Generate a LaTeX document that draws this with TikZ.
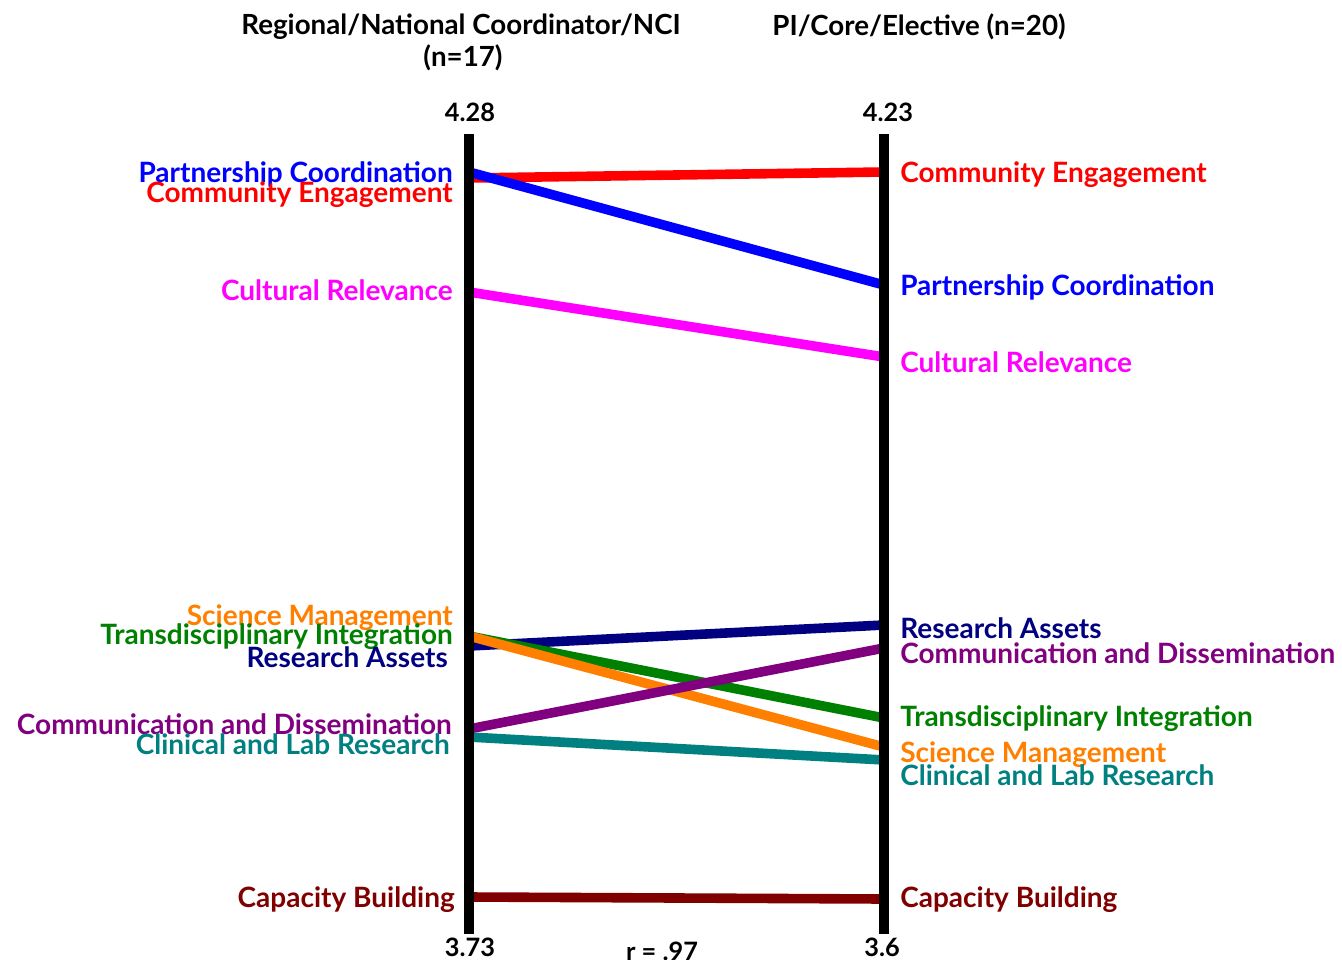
\documentclass[tikz,border=0pt]{standalone}
\usepackage{fontspec}
\setmainfont{Lato}[UprightFont=* Bold]
\definecolor{cRed}{RGB}{255,0,0}
\definecolor{cBlue}{RGB}{0,0,255}
\definecolor{cMag}{RGB}{255,0,255}
\definecolor{cNavy}{RGB}{0,0,128}
\definecolor{cOrange}{RGB}{255,128,0}
\definecolor{cGreen}{RGB}{0,128,0}
\definecolor{cPurple}{RGB}{128,0,128}
\definecolor{cTeal}{RGB}{0,128,128}
\definecolor{cDark}{RGB}{128,0,0}
\begin{document}
\begin{tikzpicture}[x=0.75pt,y=-0.75pt,
  lbl/.style={inner sep=0pt,yshift=-2pt,font=\fontsize{21}{23}\selectfont},
  llbl/.style={lbl,anchor=east},
  rlbl/.style={lbl,anchor=west},
  hdr/.style={inner sep=0pt,font=\fontsize{20.8}{23}\selectfont},
  num/.style={inner sep=0pt,font=\fontsize{19}{21}\selectfont},
  conn/.style={line width=7.2pt},
  axis/.style={line width=7.5pt,black}]
\useasboundingbox (0,0) rectangle (1342,960);
% headers
\node[hdr] (h1) at (461,27) {Regional/National Coordinator/NCI};
\node[hdr] (h1b) at (463,58) {(n=17)};
\node[hdr] (h2) at (919,27) {PI/Core/Elective (n=20)};
\node[num] (t1) at (470,112) {4.28};
\node[num] (t2) at (888,112) {4.23};
\node[num] (b1) at (470,947) {3.73};
\node[num] (b2) at (882,947) {3.6};
\node[num] (r) at (662,951) {r = .97};
% endpoint coordinates
\coordinate (LCE) at (469,178); \coordinate (RCE) at (884,172);
\coordinate (LPC) at (469,172); \coordinate (RPC) at (884,285);
\coordinate (LCR) at (469,292); \coordinate (RCR) at (884,357);
\coordinate (LRA) at (469,646); \coordinate (RRA) at (884,625);
\coordinate (LSM) at (469,636); \coordinate (RSM) at (884,747);
\coordinate (LTI) at (469,636); \coordinate (RTI) at (884,718);
\coordinate (LCD) at (469,729); \coordinate (RCD) at (884,648);
\coordinate (LCL) at (469,737); \coordinate (RCL) at (884,760);
\coordinate (LCB) at (469,897); \coordinate (RCB) at (884,899);
% connectors
\draw[conn,cRed] (LCE) -- (RCE);
\draw[conn,cBlue] (LPC) -- (RPC);
\draw[conn,cMag] (LCR) -- (RCR);
\draw[conn,cNavy] (LRA) -- (RRA);
\draw[conn,cGreen] (LTI) -- (RTI);
\draw[conn,cOrange] (LSM) -- (RSM);
\draw[conn,cPurple] (LCD) -- (RCD);
\draw[conn,cTeal] (LCL) -- (RCL);
\draw[conn,cDark] (LCB) -- (RCB);
% axes
\coordinate (A1t) at (469,134); \coordinate (A1b) at (469,934);
\coordinate (A2t) at (884,134); \coordinate (A2b) at (884,934);
\draw[axis] (A1t) -- (A1b);
\draw[axis] (A2t) -- (A2b);
% left labels
\node[llbl,text=cBlue] (lpc) at (453,172) {Partnership Coordination};
\node[llbl,text=cRed] (lce) at (453,192) {Community Engagement};
\node[llbl,text=cMag] (lcr) at (453,288) {Cultural Relevance};
\node[llbl,text=cOrange] (lsm) at (453,615) {Science Management};
\node[llbl,text=cGreen] (lti) at (453,634) {Transdisciplinary Integration};
\node[llbl,text=cNavy] (lra) at (448,655) {Research Assets};
\node[llbl,text=cPurple] (lcd) at (452,722) {Communication and Dissemination};
\node[llbl,text=cTeal] (lcl) at (450,742) {Clinical and Lab Research};
\node[llbl,text=cDark] (lcb) at (455,897) {Capacity Building};
% right labels
\node[rlbl,text=cRed] (rce) at (900,172) {Community Engagement};
\node[rlbl,text=cBlue] (rpc) at (900,285) {Partnership Coordination};
\node[rlbl,text=cMag] (rcr) at (900,360) {Cultural Relevance};
\node[rlbl,text=cNavy] (rra) at (900,626) {Research Assets};
\node[rlbl,text=cPurple] (rcd) at (900,651) {Communication and Dissemination};
\node[rlbl,text=cGreen] (rti) at (900,716) {Transdisciplinary Integration};
\node[rlbl,text=cOrange] (rsm) at (900,752) {Science Management};
\node[rlbl,text=cTeal] (rcl) at (900,773) {Clinical and Lab Research};
\node[rlbl,text=cDark] (rcb) at (900,897) {Capacity Building};
\end{tikzpicture}
\end{document}
